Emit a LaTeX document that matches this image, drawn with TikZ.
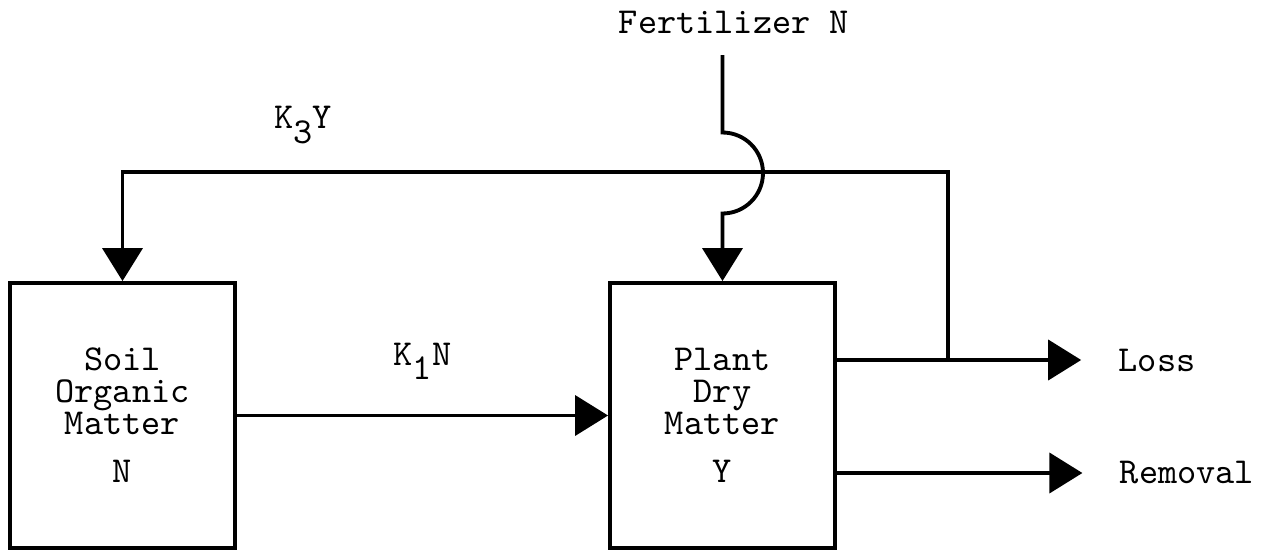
\documentclass[tikz,border=0pt]{standalone}
\usepackage{fontspec}
\usepackage{tikz}
\usetikzlibrary{arrows.meta, positioning}
\newcommand{\lowsub}[1]{\raisebox{-0.4em}{#1}}

\begin{document}
\begin{tikzpicture}[
    every node/.style={align=center, font=\ttfamily\fontsize{10.4}{9.1}\selectfont},
    arrow/.style={-{Triangle[length=3.3mm, width=4mm]}, line width=1.1pt},
    poolbox/.style={rectangle, draw, line width=1.1pt, minimum width=2.25cm, minimum height=2.65cm}
]
\useasboundingbox (0,0) rectangle (12.72,-5.51);

% Pools
\node[poolbox] (soil) at (1.225,-4.155) {Soil\\Organic\\Matter\\[4.5pt]N};
\node[poolbox] (plant) at (7.225,-4.155) {Plant\\Dry\\Matter\\[4.5pt]Y};

% Inputs and outputs
\node (fert) at (7.34,-0.22) {Fertilizer N};
\node (loss) at (11.57,-3.60) {Loss};
\node (removal) at (11.87,-4.73) {Removal};
\coordinate (ftop) at (7.225,-0.55);
\coordinate (junc) at (9.48,-3.60);
\coordinate (ktop) at (9.48,-1.72);

% Flows
\draw[arrow] (soil) -- (plant) node[midway, above=0.22cm] {K\lowsub{1}N};
\draw[arrow, shorten >=0.25cm] (plant.east |- loss) -- (loss);
\draw[arrow, shorten >=0.25cm] (plant.east |- removal) -- (removal);

% Return to soil
\draw[arrow] (junc) -- (ktop) -| (soil.north);
\node (k3) at (3.03,-1.25) {K\lowsub{3}Y};

% Fertilizer with hop over return line
\draw[arrow] (ftop) -- ++(0,-0.775) arc[start angle=90, end angle=-90, radius=0.405] -- (plant.north);

\end{tikzpicture}
\end{document}
